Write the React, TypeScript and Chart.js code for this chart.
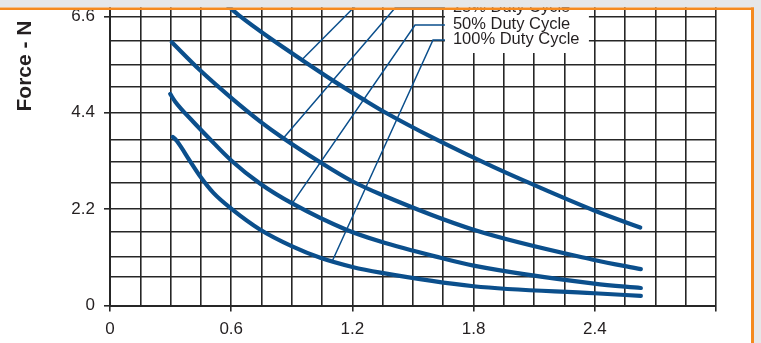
import { useEffect, useRef } from "react";
import { Chart, registerables } from "chart.js";

Chart.register(...registerables);

// ---- data ----
const xGridValues = [0, 0.15, 0.3, 0.45, 0.6, 0.75, 0.9, 1.05, 1.2, 1.35, 1.5, 1.65, 1.8, 1.95, 2.1, 2.25, 2.4, 2.55, 2.7, 2.85, 3.0];
const xTickLabels = ["0", "0.6", "1.2", "1.8", "2.4"];
const xAxisEndTick = 3.0;
const yGridValues = [0, 0.658, 1.114, 1.685, 2.2, 2.79, 3.28, 3.79, 4.4, 4.995, 5.49, 6.05, 6.6];
const yTickLabels = ["0", "2.2", "4.4", "6.6"];
const yAxisTitle = "Force - N";
const legendLabels = ["25% Duty Cycle", "50% Duty Cycle", "100% Duty Cycle"];

const curveTop = [[0.58, 6.85], [0.645, 6.6], [0.793, 6.1], [0.952, 5.6], [1.116, 5.1], [1.256, 4.7], [1.354, 4.43], [1.62, 3.78], [1.785, 3.41], [1.9, 3.16], [2.09, 2.77], [2.397, 2.17], [2.625, 1.78]];
const curve25 = [[0.306, 6.01], [0.446, 5.37], [0.603, 4.73], [0.744, 4.2], [0.858, 3.82], [1.041, 3.27], [1.19, 2.86], [1.339, 2.54], [1.8, 1.73], [2.397, 1.04], [2.628, 0.83]];
const curve50 = [[0.298, 4.83], [0.322, 4.66], [0.413, 4.19], [0.488, 3.83], [0.603, 3.3], [0.744, 2.78], [0.902, 2.33], [1.17, 1.73], [1.339, 1.46], [1.636, 1.09], [1.8, 0.91], [2.397, 0.5], [2.628, 0.4]];
const curve100 = [[0.311, 3.85], [0.33, 3.76], [0.397, 3.29], [0.446, 2.95], [0.512, 2.57], [0.603, 2.2], [0.744, 1.73], [0.902, 1.35], [1.041, 1.09], [1.2, 0.88], [1.339, 0.75], [1.8, 0.44], [2.397, 0.28], [2.628, 0.22]];

const leaderTop = [[0.95, 5.61], [1.269, 7.09]];
const leader25 = [[0.858, 3.82], [1.412, 6.8], [1.658, 6.8]];
const leader50 = [[0.902, 2.33], [1.51, 6.403], [1.658, 6.403]];
const leader100 = [[1.1, 1.01], [1.599, 6.062], [1.658, 6.062]];

// ---- style ----
const BLUE = "#0b4f8c";
const GRID = "#262626";
const TEXT = "#231f20";
const FONT = '"Liberation Sans", Arial, Helvetica, sans-serif';

const near = (a: number, b: number) => Math.abs(a - b) < 1e-6;
const xMajors = xTickLabels.map(Number);
const yMajors = yTickLabels.map(Number);

export default function App() {
  const ref = useRef<HTMLCanvasElement>(null);

  useEffect(() => {
    const canvas = ref.current!;
    const toPts = (a: number[][]) => a.map(([x, y]) => ({ x, y }));
    const curve = (label: string, pts: number[][]) => ({
      label,
      data: toPts(pts),
      borderColor: BLUE,
      borderWidth: 4.2,
      pointRadius: 0,
      cubicInterpolationMode: "monotone",
      borderCapStyle: "round",
      borderJoinStyle: "round",
      fill: false,
    });
    const leader = (label: string, pts: number[][]) => ({
      label,
      data: toPts(pts),
      borderColor: BLUE,
      borderWidth: 1.5,
      pointRadius: 0,
      tension: 0,
      fill: false,
    });

    const overlay = {
      id: "overlay",
      beforeDatasetsDraw(chart: any) {
        const ctx = chart.ctx;
        const xs = chart.scales.x;
        const ys = chart.scales.y;
        const boxLeft = xs.getPixelForValue(leader50[2][0]);
        ctx.save();
        ctx.fillStyle = "#ffffff";
        ctx.fillRect(boxLeft, 0, 144, 53);
        ctx.fillStyle = TEXT;
        ctx.font = `16.5px ${FONT}`;
        ctx.textAlign = "left";
        ctx.textBaseline = "alphabetic";
        const rows = [leader25, leader50, leader100];
        rows.forEach((r, i) => {
          const py = ys.getPixelForValue(r[2][1]);
          ctx.fillText(legendLabels[i], boxLeft + 8, py + 4);
        });
        ctx.restore();
      },
      afterDraw(chart: any) {
        const ctx = chart.ctx;
        ctx.save();
        ctx.fillStyle = TEXT;
        ctx.font = `bold 21px ${FONT}`;
        ctx.textAlign = "center";
        ctx.textBaseline = "middle";
        ctx.translate(25, 66);
        ctx.rotate(-Math.PI / 2);
        ctx.fillText(yAxisTitle, 0, 0);
        ctx.restore();
        ctx.save();
        ctx.fillStyle = "#e6e7e8";
        ctx.fillRect(0, 0, 761, 7.5);
        ctx.fillRect(754, 0, 7, 343);
        ctx.fillStyle = "#f58a1f";
        ctx.fillRect(0, 7.5, 754, 2.5);
        ctx.fillRect(751, 7.5, 3, 343);
        ctx.restore();
      },
    };

    const chart = new Chart(canvas, {
      type: "line",
      data: {
        datasets: [
          curve("top curve", curveTop),
          curve(legendLabels[0], curve25),
          curve(legendLabels[1], curve50),
          curve(legendLabels[2], curve100),
          leader("top leader", leaderTop),
          leader("25% leader", leader25),
          leader("50% leader", leader50),
          leader("100% leader", leader100),
        ] as any,
      },
      options: {
        animation: false,
        responsive: false,
        devicePixelRatio: 1,
        layout: { padding: { left: 0, right: 45, top: 0, bottom: 0 } },
        plugins: { legend: { display: false }, tooltip: { enabled: false } },
        font: { family: FONT },
        scales: {
          x: {
            type: "linear",
            min: 0,
            max: xAxisEndTick,
            afterBuildTicks: (s: any) => {
              s.ticks = xGridValues.map((v) => ({ value: v }));
            },
            afterFit: (s: any) => {
              s.height = 37.5;
              s.paddingLeft = 0;
              s.paddingRight = 0;
            },
            ticks: {
              autoSkip: false,
              maxRotation: 0,
              minRotation: 0,
              padding: 8,
              color: TEXT,
              font: { size: 17, family: FONT },
              callback: (v: any) => {
                const i = xMajors.findIndex((m) => near(m, Number(v)));
                return i >= 0 ? xTickLabels[i] : "";
              },
            },
            grid: {
              color: GRID,
              lineWidth: 1.6,
              tickLength: 6,
              tickWidth: 1.6,
              tickColor: (c: any) =>
                c.tick && (xMajors.some((m) => near(m, c.tick.value)) || near(c.tick.value, xAxisEndTick)) ? GRID : "rgba(0,0,0,0)",
            },
            border: { color: GRID, width: 2 },
          },
          y: {
            type: "linear",
            min: 0,
            max: 6.975,
            afterBuildTicks: (s: any) => {
              s.ticks = yGridValues.map((v) => ({ value: v }));
            },
            afterFit: (s: any) => {
              s.width = 110;
              s.paddingTop = 0;
              s.paddingBottom = 0;
            },
            ticks: {
              autoSkip: false,
              padding: 9,
              color: TEXT,
              font: { size: 17, family: FONT },
              callback: (v: any) => {
                const i = yMajors.findIndex((m) => near(m, Number(v)));
                return i >= 0 ? yTickLabels[i] : "";
              },
            },
            grid: {
              color: GRID,
              lineWidth: 1.6,
              tickLength: 6,
              tickWidth: 1.6,
              tickColor: (c: any) => (c.tick && yMajors.some((m) => near(m, c.tick.value)) ? GRID : "rgba(0,0,0,0)"),
            },
            border: { color: GRID, width: 2 },
          },
        },
      } as any,
      plugins: [overlay],
    });
    return () => chart.destroy();
  }, []);

  return (
    <div style={{ position: "fixed", left: 0, top: 0, width: 761, height: 343, background: "#ffffff" }}>
      <canvas ref={ref} width={761} height={343} style={{ display: "block", width: 761, height: 343 }} />
    </div>
  );
}
